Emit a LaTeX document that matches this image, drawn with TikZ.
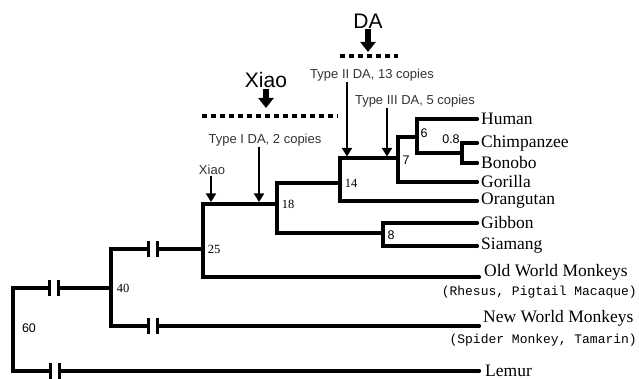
\documentclass[tikz,border=0pt]{standalone}
\usepackage{fontspec}
\setmainfont{Liberation Serif}
\setsansfont{Liberation Sans}
\setmonofont{Liberation Mono}
\usepackage{tikz}
\usetikzlibrary{positioning}
\usetikzlibrary{arrows.meta}

\tikzset{brk/.pic={
    \fill[white] (-4.5,-3) rectangle (4.5,3);
    \draw[line width=3pt] (-4.5,-8) -- (-4.5,8) (4.5,-8) -- (4.5,8);}}

\begin{document}
\begin{tikzpicture}[x=1pt,y=-1pt]
        \tikzstyle{branch}=[line width=3.3pt, line join=miter]
        \tikzstyle{leaf}=[font=\fontsize{17.5}{18}\selectfont, inner sep=1pt]
        \tikzstyle{sub}=[font=\ttfamily\fontsize{13}{14}\selectfont, inner sep=1pt]
        \tikzstyle{num}=[font=\fontsize{12.5}{13}\selectfont, inner sep=1pt]
        \tikzstyle{snum}=[font=\sffamily\fontsize{12.5}{13}\selectfont, inner sep=1pt]
        \tikzstyle{note}=[font=\sffamily\fontsize{13}{14}\selectfont, text=black!80, inner sep=1pt]
        \tikzstyle{big}=[font=\sffamily\fontsize{21}{23}\selectfont, inner sep=1pt]
        \tikzstyle{thin}=[-{Triangle[length=8.5pt,width=10pt]}, line width=1.7pt]
        \tikzstyle{fat}=[-{Triangle[length=10pt,width=15pt]}, line width=6pt]
        \tikzstyle{dots}=[line width=4.5pt, dash pattern=on 5pt off 4pt]
        \useasboundingbox (0,0) rectangle (639,379);

            % junctions
            \coordinate (j60) at (13,329);
            \coordinate (j40) at (111,288);
            \coordinate (j25) at (203,249);
            \coordinate (j18) at (277,204);
            \coordinate (j14) at (340,183);
            \coordinate (j7) at (398,158);
            \coordinate (j6) at (417,137);
            \coordinate (j08) at (462,153);
            \coordinate (j8) at (383,233);

            % leaves
            \coordinate (hum) at (477,119);
            \coordinate (chi) at (477,143);
            \coordinate (bon) at (477,163);
            \coordinate (gor) at (477,182);
            \coordinate (ora) at (477,201);
            \coordinate (gib) at (477,223);
            \coordinate (sia) at (477,246);
            \coordinate (owm) at (479,277);
            \coordinate (nwm) at (479,326);
            \coordinate (lem) at (479,371);

            \draw[branch] (j60) |- (j40);
            \draw[branch] (j60) |- (lem);
            \draw[branch] (j40) |- (j25);
            \draw[branch] (j40) |- (nwm);
            \draw[branch] (j25) |- (j18);
            \draw[branch] (j25) |- (owm);
            \draw[branch] (j18) |- (j14);
            \draw[branch] (j18) |- (j8);
            \draw[branch] (j14) |- (j7);
            \draw[branch] (j14) |- (ora);
            \draw[branch] (j7) |- (j6);
            \draw[branch] (j7) |- (gor);
            \draw[branch] (j6) |- (hum);
            \draw[branch] (j6) |- (j08);
            \draw[branch] (j08) |- (chi);
            \draw[branch] (j08) |- (bon);
            \draw[branch] (j8) |- (gib);
            \draw[branch] (j8) |- (sia);

            \pic at (53.5,288) {brk};
            \pic at (153,249) {brk};
            \pic at (153,326) {brk};
            \pic at (55,371) {brk};

            \foreach \l in {hum,chi,bon,gor,ora,gib,sia,owm,nwm,lem}
                \fill (\l) circle (2.1);

            \node[leaf, right=3pt of hum] (lhum) {Human};
            \node[leaf, right=3pt of chi] (lchi) {Chimpanzee};
            \node[leaf, right=3pt of bon] (lbon) {Bonobo};
            \node[leaf, right=3pt of gor] (lgor) {Gorilla};
            \node[leaf, right=3pt of ora] (lora) {Orangutan};
            \node[leaf, right=3pt of gib] (lgib) {Gibbon};
            \node[leaf, right=3pt of sia] (lsia) {Siamang};
            \node[leaf, anchor=west] (lowm) at (483,272) {Old World Monkeys};
            \node[sub, anchor=east] (lrhe) at (638,292) {(Rhesus, Pigtail Macaque)};
            \node[leaf, anchor=west] (lnwm) at (482,318) {New World Monkeys};
            \node[sub, anchor=east] (lspi) at (638,340) {(Spider Monkey, Tamarin)};
            \node[leaf, right=5pt of lem] (llem) {Lemur};

            % branch ages
            \node[snum] (n60) at (29,328) {60};
            \node[num] (n40) at (123,288) {40};
            \node[num] (n25) at (214,249) {25};
            \node[num] (n18) at (288,204) {18};
            \node[num] (n14) at (351,183) {14};
            \node[snum] (n7) at (406,160) {7};
            \node[snum] (n6) at (424,133) {6};
            \node[snum] (n08) at (451,139) {0.8};
            \node[snum] (n8) at (391,235) {8};

            % insertion events
            \node[note] (x0) at (212,170) {Xiao};
            \node[note] (t1) at (265,140) {Type I DA, 2 copies};
            \node[note] (t2) at (372,75) {Type II DA, 13 copies};
            \node[note] (t3) at (415,101) {Type III DA, 5 copies};
            \coordinate (a0) at (211,202);
            \coordinate (a1) at (259,202);
            \coordinate (a2) at (347,156.5);
            \coordinate (a3) at (387,156.5);
            \draw[thin] (a0 |- x0.south) -- (a0);
            \draw[thin] (a1 |- t1.south) -- (a1);
            \draw[thin] (a2 |- t2.south) -- (a2);
            \draw[thin] (a3 |- t3.south) -- (a3);

            \coordinate (xl) at (202,116);
            \coordinate (xr) at (338,116);
            \coordinate (dl) at (340,56);
            \coordinate (dr) at (398,56);
            \draw[dots] (xl) -- (xr);
            \draw[dots] (dl) -- (dr);
            \node[big] (xiao) at (266,80) {Xiao};
            \node[big] (da) at (368,21) {DA};
            \draw[fat, shorten >=8pt] (xiao.south) -- (xiao.south |- xl);
            \draw[fat, shorten >=4pt] (da.south) -- (da.south |- dl);
        \end{tikzpicture}
\end{document}
